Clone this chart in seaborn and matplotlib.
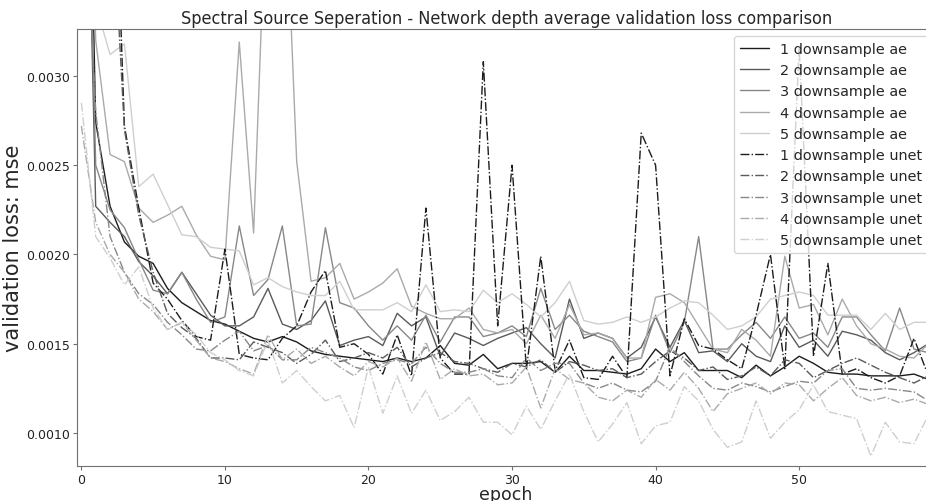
import numpy as np
import pandas as pd
import matplotlib
matplotlib.use("Agg")
import matplotlib.pyplot as plt
import seaborn as sns

# validation loss per epoch
epochs = list(range(60))

ae_1 = [0.0065, 0.00274, 0.00227, 0.00207, 0.00199, 0.00195, 0.00181, 0.00173, 0.00168, 0.00163,
        0.00161, 0.00157, 0.00153, 0.00151, 0.00154, 0.00151, 0.00146, 0.00144, 0.00143, 0.00142,
        0.00141, 0.0014, 0.00142, 0.0014, 0.00142, 0.00149, 0.00139, 0.00138, 0.00144, 0.00136,
        0.00139, 0.00139, 0.0014, 0.00134, 0.00143, 0.00135, 0.00135, 0.00134, 0.00133, 0.00136,
        0.00147, 0.0014, 0.00145, 0.00135, 0.00135, 0.00135, 0.00131, 0.00138, 0.00132, 0.00137,
        0.00143, 0.00139, 0.00134, 0.00133, 0.00133, 0.00132, 0.00132, 0.00132, 0.00133, 0.0013]
ae_2 = [0.0058, 0.00227, 0.00218, 0.0021, 0.00196, 0.00188, 0.00178, 0.0019, 0.00178, 0.00166,
        0.0016, 0.0016, 0.00165, 0.00181, 0.00161, 0.00158, 0.00163, 0.00174, 0.00149, 0.00152,
        0.00154, 0.00149, 0.00167, 0.0016, 0.00165, 0.00143, 0.00156, 0.00153, 0.00149, 0.00153,
        0.00156, 0.00159, 0.0015, 0.00142, 0.00175, 0.00153, 0.00156, 0.00153, 0.00142, 0.00148,
        0.00165, 0.00148, 0.00163, 0.00145, 0.00146, 0.0014, 0.0015, 0.00143, 0.0014, 0.0016,
        0.00148, 0.00152, 0.00143, 0.00157, 0.00155, 0.00152, 0.00145, 0.00141, 0.00145, 0.0015]
ae_3 = [0.0058, 0.0025, 0.00225, 0.00215, 0.00197, 0.0018, 0.00178, 0.0019, 0.00175, 0.00162,
        0.00165, 0.00216, 0.00177, 0.00186, 0.00216, 0.0016, 0.00161, 0.00215, 0.00173, 0.0017,
        0.0016, 0.00152, 0.0016, 0.00152, 0.00166, 0.00151, 0.00165, 0.00165, 0.00154, 0.00156,
        0.0016, 0.00154, 0.00181, 0.00158, 0.00166, 0.00157, 0.00154, 0.00151, 0.0014, 0.00142,
        0.00166, 0.00145, 0.00162, 0.0021, 0.00147, 0.00147, 0.00155, 0.00162, 0.00153, 0.00165,
        0.00153, 0.00156, 0.00148, 0.00165, 0.00165, 0.00155, 0.00146, 0.0017, 0.00147, 0.00145]
ae_4 = [0.006, 0.0032, 0.00256, 0.00252, 0.00226, 0.00218, 0.00222, 0.00227, 0.00211, 0.00199,
        0.00197, 0.00319, 0.00212, 0.0043, 0.0045, 0.00252, 0.00185, 0.00187, 0.00195, 0.00175,
        0.00179, 0.00184, 0.00192, 0.00171, 0.00167, 0.00164, 0.00164, 0.0017, 0.00158, 0.00156,
        0.00158, 0.0015, 0.00166, 0.00153, 0.00172, 0.00155, 0.00156, 0.00153, 0.00142, 0.00142,
        0.00176, 0.00178, 0.00173, 0.0016, 0.00147, 0.00145, 0.00158, 0.00152, 0.00143, 0.00199,
        0.0017, 0.00172, 0.00155, 0.00175, 0.0016, 0.0015, 0.00147, 0.00143, 0.00142, 0.0015]
ae_5 = [0.0055, 0.0034, 0.00312, 0.00318, 0.00238, 0.00245, 0.00228, 0.00211, 0.0021, 0.00204,
        0.00203, 0.00202, 0.00183, 0.00187, 0.00182, 0.00179, 0.00177, 0.00177, 0.00185, 0.00169,
        0.00169, 0.00169, 0.00173, 0.00168, 0.00183, 0.00168, 0.00169, 0.00168, 0.0018, 0.00173,
        0.00178, 0.00172, 0.00165, 0.00173, 0.00185, 0.00163, 0.00161, 0.00162, 0.00165, 0.00162,
        0.00165, 0.0017, 0.00174, 0.00173, 0.00166, 0.00158, 0.0016, 0.00165, 0.00175, 0.00177,
        0.00179, 0.00177, 0.00166, 0.00166, 0.00166, 0.00158, 0.00167, 0.00158, 0.00162, 0.00162]

unet_1 = [0.006, 0.0055, 0.005, 0.00272, 0.00226, 0.00184, 0.00175, 0.00163, 0.00154, 0.00152,
          0.00203, 0.00144, 0.00142, 0.00141, 0.00153, 0.0016, 0.00179, 0.00191, 0.00148, 0.0015,
          0.00144, 0.00133, 0.00155, 0.00132, 0.00226, 0.00142, 0.00133, 0.00133, 0.00308, 0.0016,
          0.0025, 0.00136, 0.00199, 0.00135, 0.00152, 0.00131, 0.0013, 0.00143, 0.00131, 0.00268,
          0.0025, 0.00132, 0.00164, 0.00149, 0.00147, 0.00141, 0.00136, 0.00166, 0.002, 0.00136,
          0.00316, 0.00143, 0.00195, 0.00133, 0.00136, 0.00131, 0.00128, 0.00132, 0.00153, 0.00132]
unet_2 = [0.0058, 0.005, 0.0042, 0.0027, 0.00222, 0.0019, 0.00167, 0.00159, 0.00153, 0.00142,
          0.00142, 0.00141, 0.00151, 0.00148, 0.00145, 0.00139, 0.00144, 0.00152, 0.0014, 0.00142,
          0.00145, 0.00142, 0.00148, 0.00137, 0.00142, 0.00145, 0.0014, 0.00139, 0.00136, 0.00134,
          0.00139, 0.00137, 0.00141, 0.00134, 0.0014, 0.00138, 0.00135, 0.00136, 0.00131, 0.00133,
          0.0014, 0.00146, 0.00142, 0.00135, 0.00137, 0.0013, 0.00132, 0.00137, 0.00132, 0.00141,
          0.00139, 0.00131, 0.00135, 0.00139, 0.00142, 0.00138, 0.00134, 0.00131, 0.00128, 0.00132]
unet_3 = [0.0045, 0.0028, 0.0021, 0.0019, 0.00178, 0.00172, 0.00162, 0.00155, 0.00147, 0.00146,
          0.00152, 0.00157, 0.00146, 0.00149, 0.00141, 0.00141, 0.00148, 0.00145, 0.00142, 0.00137,
          0.00135, 0.00139, 0.00141, 0.00139, 0.00148, 0.00139, 0.00134, 0.00134, 0.00136, 0.00132,
          0.00131, 0.00142, 0.00135, 0.00139, 0.00139, 0.00128, 0.00125, 0.00128, 0.00124, 0.00123,
          0.00129, 0.00148, 0.0014, 0.00132, 0.00125, 0.00124, 0.00128, 0.00126, 0.00123, 0.00126,
          0.00129, 0.00128, 0.00135, 0.00136, 0.00125, 0.00124, 0.00125, 0.00124, 0.00123, 0.00118]
unet_4 = [0.00272, 0.00218, 0.002, 0.0019, 0.00175, 0.00168, 0.00158, 0.00162, 0.00152, 0.00142,
          0.0014, 0.00136, 0.00133, 0.00155, 0.00141, 0.00147, 0.00139, 0.00143, 0.00137, 0.00132,
          0.0014, 0.00137, 0.00142, 0.00129, 0.00151, 0.0013, 0.00136, 0.00132, 0.00133, 0.00127,
          0.00128, 0.00137, 0.00114, 0.00136, 0.0013, 0.00128, 0.0012, 0.00118, 0.00124, 0.0012,
          0.0013, 0.00124, 0.00134, 0.00125, 0.00112, 0.00122, 0.00125, 0.00128, 0.00122, 0.00128,
          0.00127, 0.00118, 0.00125, 0.00131, 0.00121, 0.00118, 0.0012, 0.00117, 0.00119, 0.00116]
unet_5 = [0.00285, 0.0021, 0.00198, 0.00183, 0.00193, 0.0017, 0.00158, 0.00162, 0.00155, 0.00145,
          0.00141, 0.00135, 0.00132, 0.00152, 0.00128, 0.00135, 0.00126, 0.00118, 0.00121, 0.00103,
          0.00137, 0.00111, 0.00132, 0.00111, 0.00124, 0.00107, 0.00112, 0.0012, 0.00106, 0.00106,
          0.00099, 0.00115, 0.00102, 0.00118, 0.00133, 0.00112, 0.00095, 0.00105, 0.00117, 0.00094,
          0.00104, 0.00106, 0.00126, 0.00118, 0.00102, 0.00092, 0.00095, 0.00118, 0.00097, 0.00106,
          0.00113, 0.00127, 0.00112, 0.0011, 0.00108, 0.00087, 0.00106, 0.00095, 0.00094, 0.0011]

labels = ["1 downsample ae", "2 downsample ae", "3 downsample ae", "4 downsample ae", "5 downsample ae",
          "1 downsample unet", "2 downsample unet", "3 downsample unet", "4 downsample unet", "5 downsample unet"]
series = [ae_1, ae_2, ae_3, ae_4, ae_5, unet_1, unet_2, unet_3, unet_4, unet_5]
greys = ["#1c1c1c", "#5a5a5a", "#888888", "#aaaaaa", "#cfcfcf"]

sns.set_style("ticks")
plt.rcParams["axes.edgecolor"] = "#707070"
plt.rcParams["xtick.color"] = "#707070"
plt.rcParams["ytick.color"] = "#707070"
plt.rcParams["xtick.labelcolor"] = "#222222"
plt.rcParams["ytick.labelcolor"] = "#222222"

fig = plt.figure(figsize=(9.26, 5.02), dpi=100)
ax = fig.add_axes([0.0832, 0.0697, 0.9268, 0.8705])

for i, (name, vals) in enumerate(zip(labels, series)):
    ls = "-" if i < 5 else "-."
    sns.lineplot(x=epochs, y=vals, ax=ax, color=greys[i % 5], linestyle=ls,
                 linewidth=1.0, label=name)

ax.set_xlim(-0.3, 59.48)
ax.set_ylim(0.000815, 0.003263)
ax.set_xticks([0, 10, 20, 30, 40, 50])
ax.set_yticks([0.0010, 0.0015, 0.0020, 0.0025, 0.0030])
ax.yaxis.set_major_formatter(matplotlib.ticker.FormatStrFormatter("%.4f"))
ax.tick_params(labelsize=9, length=3, width=0.8, pad=2)

ax.set_title("Spectral Source Seperation - Network depth average validation loss comparison",
             fontsize=13, fontstretch="condensed", pad=4)
ax.set_xlabel("epoch", fontsize=12.5, labelpad=-1)
ax.set_ylabel("validation loss: mse", fontsize=15, labelpad=2)
ax.legend(loc="upper right", fontsize=10.4, frameon=True, framealpha=0.8)

fig.savefig("out.png", dpi=100)
